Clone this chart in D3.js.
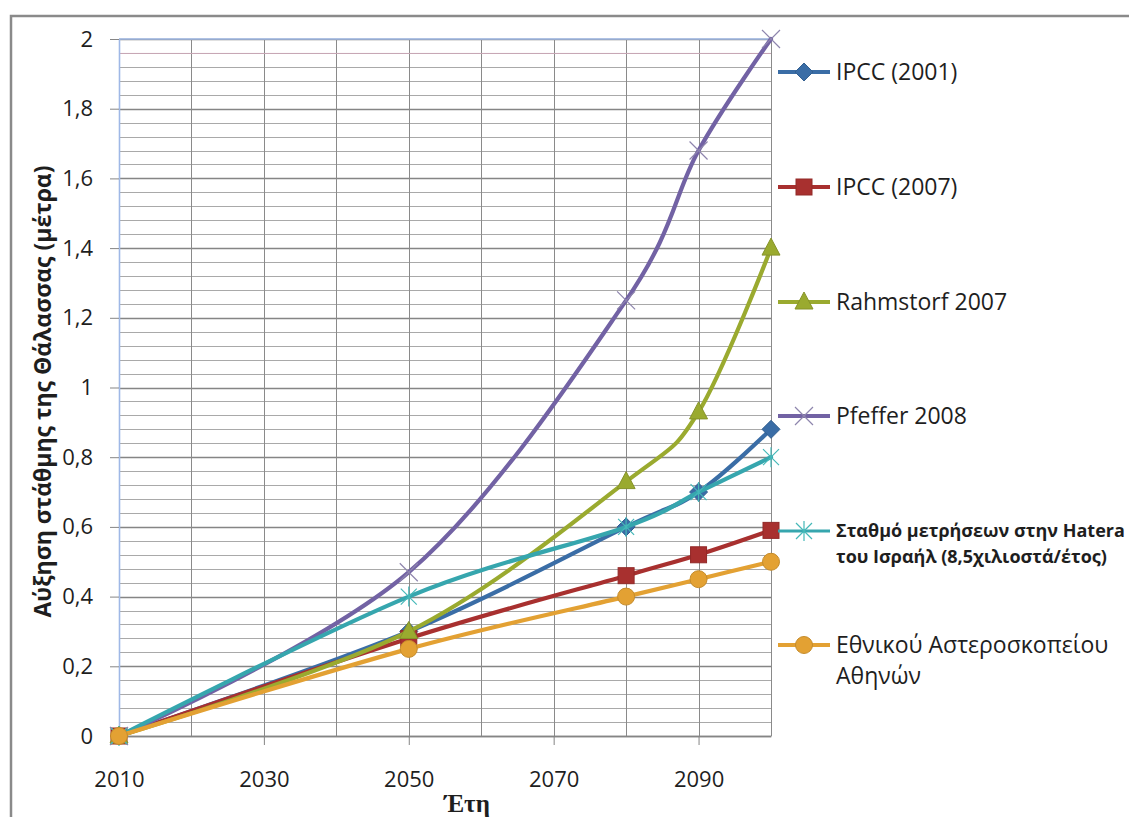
<!DOCTYPE html>
<html>
<head>
<meta charset="utf-8">
<script src="https://cdn.jsdelivr.net/npm/d3@7"></script>
<style>
  html, body { margin: 0; padding: 0; background: #fff; }
  svg { display: block; }
  text { font-family: "Open Sans", "Noto Sans", sans-serif; fill: #1e1e1e; }
</style>
</head>
<body>
<svg id="chart" width="1129" height="817"></svg>
<script>
// Sea level rise projections (metres) by year
const years = [2010, 2050, 2080, 2090, 2100];

const ipcc2001     = [0, 0.30, 0.60, 0.70, 0.88];
const ipcc2007     = [0, 0.28, 0.46, 0.52, 0.59];
const rahmstorf07  = [0, 0.30, 0.73, 0.93, 1.40];
const pfeffer08    = [0, 0.47, 1.25, 1.68, 2.00];
const hateraIsrael = [0, 0.40, 0.60, 0.70, 0.80];
const athensObs    = [0, 0.25, 0.40, 0.45, 0.50];

const seriesNames = [
  ["IPCC (2001)"],
  ["IPCC (2007)"],
  ["Rahmstorf 2007"],
  ["Pfeffer 2008"],
  ["Σταθμό μετρήσεων στην Hatera", "του Ισραήλ (8,5χιλιοστά/έτος)"],
  ["Εθνικού Αστεροσκοπείου", "Αθηνών"]
];

const xTickValues = [2010, 2030, 2050, 2070, 2090];
const yTickValues = [0, 0.2, 0.4, 0.6, 0.8, 1, 1.2, 1.4, 1.6, 1.8, 2];
const yTickLabels = ["0", "0,2", "0,4", "0,6", "0,8", "1", "1,2", "1,4", "1,6", "1,8", "2"];

const yTitle = "Αύξηση στάθμης της Θάλασσας (μέτρα)";
const xTitle = "Έτη";

// ---- appearance ----
const styles = [
  { color: "#3a6da6", marker: "diamond" },
  { color: "#a8302f", marker: "square" },
  { color: "#9aaa2f", marker: "triangle" },
  { color: "#7262a4", marker: "cross" },
  { color: "#36a6ae", marker: "asterisk" },
  { color: "#e3a133", marker: "circle" }
];
const allValues = [ipcc2001, ipcc2007, rahmstorf07, pfeffer08, hateraIsrael, athensObs];

const svg = d3.select("#chart");
const plot = { left: 119, top: 39, right: 771, bottom: 736 };

// outer chart frame
svg.append("rect")
  .attr("x", 11).attr("y", 16).attr("width", 1300).attr("height", 1000)
  .attr("fill", "#fff").attr("stroke", "#8a8a8a").attr("stroke-width", 2.5);

const x = d3.scaleLinear().domain([2010, 2100]).range([plot.left, plot.right]);
const y = d3.scaleLinear().domain([0, 2]).range([plot.bottom, plot.top]);

const grid = svg.append("g");

// minor horizontal gridlines every 0.04
grid.selectAll("line.hminor")
  .data(d3.range(0, 51).map(i => i * 0.04))
  .join("line")
  .attr("x1", plot.left).attr("x2", plot.right)
  .attr("y1", d => Math.round(y(d)) + 0.5).attr("y2", d => Math.round(y(d)) + 0.5)
  .attr("stroke", "#a9a9a9").attr("stroke-width", 1);

// major horizontal gridlines
grid.selectAll("line.hmajor")
  .data(yTickValues)
  .join("line")
  .attr("x1", plot.left).attr("x2", plot.right)
  .attr("y1", d => Math.round(y(d)) + 0.5).attr("y2", d => Math.round(y(d)) + 0.5)
  .attr("stroke", "#858585").attr("stroke-width", 1.3);

// vertical gridlines every 10 years
grid.selectAll("line.v")
  .data(d3.range(2010, 2101, 10))
  .join("line")
  .attr("x1", d => Math.round(x(d)) + 0.5).attr("x2", d => Math.round(x(d)) + 0.5)
  .attr("y1", plot.top).attr("y2", plot.bottom)
  .attr("stroke", "#8a8a8a").attr("stroke-width", 1);

// top edge and left axis line
grid.append("line")
  .attr("x1", plot.left).attr("x2", plot.right)
  .attr("y1", y(2)).attr("y2", y(2))
  .attr("stroke", "#9fb8e6").attr("stroke-width", 1.6);
grid.append("line")
  .attr("x1", plot.left).attr("x2", plot.right)
  .attr("y1", y(1.96) + 0.5).attr("y2", y(1.96) + 0.5)
  .attr("stroke", "#c9a7b6").attr("stroke-width", 1);
grid.append("line")
  .attr("x1", plot.left + 0.5).attr("x2", plot.left + 0.5)
  .attr("y1", plot.top).attr("y2", plot.bottom)
  .attr("stroke", "#9fb8e6").attr("stroke-width", 1.6);

// bottom axis with ticks
const xAxis = d3.axisBottom(x).tickValues(xTickValues).tickFormat(d3.format("d"))
  .tickSizeInner(9).tickSizeOuter(0).tickPadding(26);
const gx = svg.append("g").attr("transform", `translate(0,${plot.bottom})`).call(xAxis);
gx.select(".domain").attr("stroke", "#858585").attr("stroke-width", 1.3);
gx.selectAll(".tick line").attr("stroke", "#858585");
gx.selectAll(".tick text").attr("font-size", 22).attr("font-family", "Open Sans").attr("fill", "#1e1e1e");

// left axis with ticks
const yAxis = d3.axisLeft(y).tickValues(yTickValues)
  .tickFormat((d, i) => yTickLabels[i])
  .tickSizeInner(9).tickSizeOuter(0).tickPadding(17);
const gy = svg.append("g").attr("transform", `translate(${plot.left},0)`).call(yAxis);
gy.select(".domain").remove();
gy.selectAll(".tick line").attr("stroke", "#858585");
gy.selectAll(".tick text").attr("font-size", 22).attr("font-family", "Open Sans").attr("fill", "#1e1e1e");

// axis titles
svg.append("text")
  .attr("transform", `translate(51,${(plot.top + plot.bottom) / 2 + 4}) rotate(-90)`)
  .attr("text-anchor", "middle")
  .attr("font-size", 23).attr("font-weight", "bold")
  .text(yTitle);

svg.append("text")
  .attr("x", 467).attr("y", 812)
  .attr("text-anchor", "middle")
  .style("font-family", "'Liberation Serif', 'DejaVu Serif', serif")
  .attr("font-size", 25).attr("font-weight", "bold")
  .text(xTitle);

// marker drawing
function drawMarker(g, type, color, cx, cy) {
  const m = g.append("g").attr("transform", `translate(${cx},${cy})`);
  const dark = d3.color(color).darker(0.4).formatHex();
  if (type === "diamond") {
    m.append("path").attr("d", "M0,-9 L9,0 L0,9 L-9,0 Z")
      .attr("fill", color).attr("stroke", dark).attr("stroke-width", 1);
  } else if (type === "square") {
    m.append("rect").attr("x", -8).attr("y", -8).attr("width", 16).attr("height", 16)
      .attr("fill", color).attr("stroke", dark).attr("stroke-width", 1);
  } else if (type === "triangle") {
    m.append("path").attr("d", "M0,-10 L9,7 L-9,7 Z")
      .attr("fill", color).attr("stroke", dark).attr("stroke-width", 1);
  } else if (type === "circle") {
    m.append("circle").attr("r", 8.5)
      .attr("fill", color).attr("stroke", dark).attr("stroke-width", 1);
  } else if (type === "cross") {
    m.append("path").attr("d", "M-9,-9 L9,9 M-9,9 L9,-9")
      .attr("stroke", "#8e85ad").attr("stroke-width", 1.2).attr("fill", "none");
  } else if (type === "asterisk") {
    m.append("path").attr("d", "M-8,-8 L8,8 M-8,8 L8,-8 M0,-10 L0,10")
      .attr("stroke", "#45b8b8").attr("stroke-width", 1.2).attr("fill", "none");
  }
}

// series lines (smoothed) and markers
const line = d3.line()
  .x(d => x(d[0]))
  .y(d => y(d[1]))
  .curve(d3.curveCardinal.tension(0));

const seriesG = svg.append("g");
allValues.forEach((vals, i) => {
  const pts = years.map((yr, j) => [yr, vals[j]]);
  const g = seriesG.append("g");
  g.append("path")
    .attr("d", line(pts))
    .attr("fill", "none")
    .attr("stroke", styles[i].color)
    .attr("stroke-width", 4.2)
    .attr("stroke-linejoin", "round")
    .attr("stroke-linecap", "round");
  pts.forEach(p => drawMarker(g, styles[i].marker, styles[i].color, x(p[0]), y(p[1])));
});

// legend
const legendY = [72, 187, 302, 416, 531, 645];
const legend = svg.append("g");
seriesNames.forEach((lines, i) => {
  const cy = legendY[i];
  const g = legend.append("g");
  g.append("line")
    .attr("x1", 778).attr("x2", 830).attr("y1", cy).attr("y2", cy)
    .attr("stroke", styles[i].color)
    .attr("stroke-width", i === 4 ? 3 : 4.2);
  drawMarker(g, styles[i].marker, styles[i].color, 804, cy);
  const small = i === 4;
  const fs = small ? 18 : 23;
  const lh = small ? 26 : 31;
  lines.forEach((t, k) => {
    g.append("text")
      .attr("x", 836)
      .attr("y", cy + k * lh + fs * 0.36)
      .attr("font-size", fs)
      .attr("font-weight", small ? "bold" : "normal")
      .text(t);
  });
});
</script>
</body>
</html>
